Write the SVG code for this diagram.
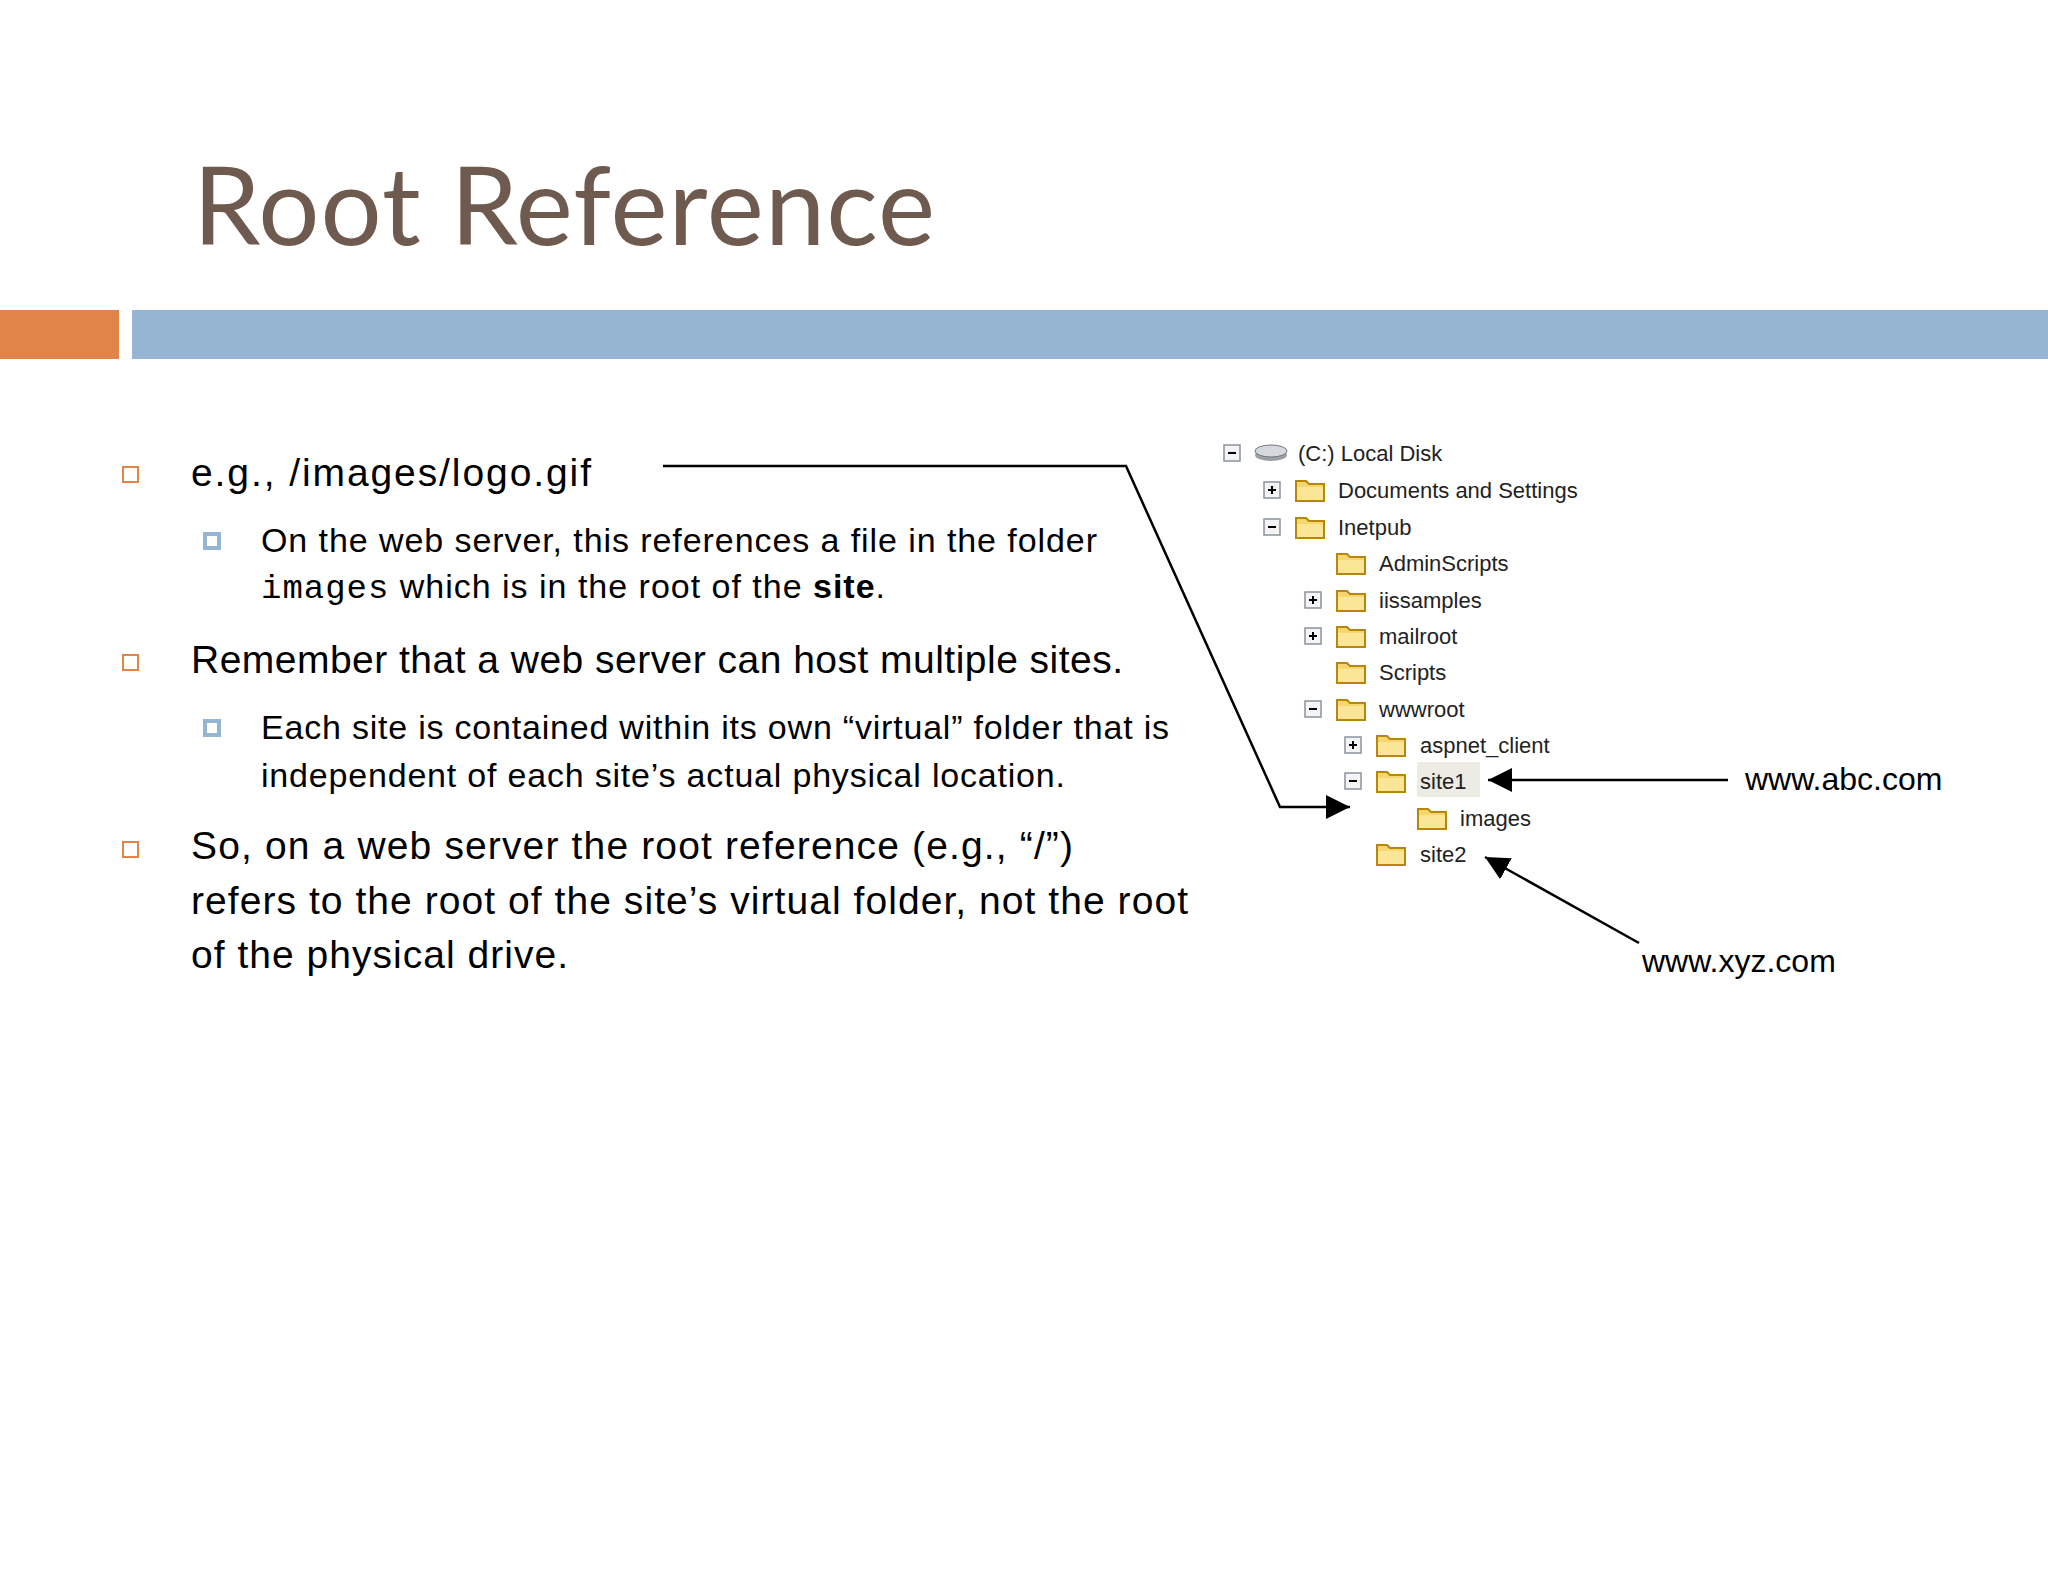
<svg xmlns="http://www.w3.org/2000/svg" width="2048" height="1582" viewBox="0 0 2048 1582">
<defs>
<style>
.t{font-family:"Liberation Sans",Arial,sans-serif;fill:#000}
.b{font-size:39px}.s{font-size:34px}
.tr{font-family:"Liberation Sans",Arial,sans-serif;font-size:22px;fill:#222}
.ex{fill:#f4f4f4;stroke:#8a93a0;stroke-width:1.5}
.exs{stroke:#000;stroke-width:2}
.fd{fill:#f6d66f;stroke:#b8860b;stroke-width:2}
.cn{fill:none;stroke:#000;stroke-width:2.5}
</style>
<marker id="ah2" viewBox="0 0 10 10" refX="10" refY="5" markerWidth="24" markerHeight="26" markerUnits="userSpaceOnUse" orient="auto">
<path d="M0,0 L10,5 L0,10 z" fill="#000"/>
</marker>
<g id="folder"><path class="fd" d="M1,5 h10 l3,3 h15 v17 h-28 z"/><path d="M2,11 h26 v13 h-26 z" fill="#fbe596"/></g>
<g id="minus"><rect class="ex" x="0" y="0" width="16" height="16"/><path class="exs" d="M4,8 h8"/></g>
<g id="plus"><rect class="ex" x="0" y="0" width="16" height="16"/><path class="exs" d="M4,8 h8 M8,4 v8"/></g>
</defs>
<rect width="2048" height="1582" fill="#fff"/>
<text x="193" y="245" font-family="Lato,'Liberation Sans',sans-serif" font-size="108" fill="#6f5a4f" textLength="742">Root Reference</text>
<rect x="0" y="310" width="119" height="49" fill="#e0844a"/>
<rect x="132" y="310" width="1916" height="49" fill="#96b5d2"/>

<g id="bullets">
<rect x="123" y="467" width="15" height="15" fill="none" stroke="#e0844a" stroke-width="2"/>
<text class="t b" x="191" y="486" textLength="400">e.g., /images/logo.gif</text>
<rect x="205" y="534" width="14" height="14" fill="none" stroke="#96b5d2" stroke-width="4"/>
<text class="t s" x="261" y="552" textLength="836">On the web server, this references a file in the folder</text>
<text class="t s" x="261" y="598" textLength="624"><tspan font-family="'Liberation Mono',monospace">images</tspan> which is in the root of the <tspan font-weight="bold">site</tspan>.</text>
<rect x="123" y="655" width="15" height="15" fill="none" stroke="#e0844a" stroke-width="2"/>
<text class="t b" x="191" y="673" textLength="932">Remember that a web server can host multiple sites.</text>
<rect x="205" y="721" width="14" height="14" fill="none" stroke="#96b5d2" stroke-width="4"/>
<text class="t s" x="261" y="739" textLength="908">Each site is contained within its own “virtual” folder that is</text>
<text class="t s" x="261" y="787" textLength="804">independent of each site’s actual physical location.</text>
<rect x="123" y="842" width="15" height="15" fill="none" stroke="#e0844a" stroke-width="2"/>
<text class="t b" x="191" y="859" textLength="882">So, on a web server the root reference (e.g., “/”)</text>
<text class="t b" x="191" y="914" textLength="997">refers to the root of the site’s virtual folder, not the root</text>
<text class="t b" x="191" y="968" textLength="377">of the physical drive.</text>
</g>

<g id="tree">
<use href="#minus" x="1224" y="445"/>
<g id="disk"><ellipse cx="1271" cy="455" rx="16" ry="6" fill="#9aa0a6"/><ellipse cx="1271" cy="451" rx="16" ry="6" fill="#d5d8dc" stroke="#777" stroke-width="1"/></g>
<text class="tr" x="1298" y="461">(C:) Local Disk</text>
<use href="#plus" x="1264" y="482"/><use href="#folder" x="1295" y="476"/><text class="tr" x="1338" y="498">Documents and Settings</text>
<use href="#minus" x="1264" y="519"/><use href="#folder" x="1295" y="513"/><text class="tr" x="1338" y="535">Inetpub</text>
<use href="#folder" x="1336" y="549"/><text class="tr" x="1379" y="571">AdminScripts</text>
<use href="#plus" x="1305" y="592"/><use href="#folder" x="1336" y="586"/><text class="tr" x="1379" y="608">iissamples</text>
<use href="#plus" x="1305" y="628"/><use href="#folder" x="1336" y="622"/><text class="tr" x="1379" y="644">mailroot</text>
<use href="#folder" x="1336" y="658"/><text class="tr" x="1379" y="680">Scripts</text>
<use href="#minus" x="1305" y="701"/><use href="#folder" x="1336" y="695"/><text class="tr" x="1379" y="717">wwwroot</text>
<use href="#plus" x="1345" y="737"/><use href="#folder" x="1376" y="731"/><text class="tr" x="1420" y="753">aspnet_client</text>
<rect x="1417" y="762" width="63" height="35" fill="#ecece4"/>
<use href="#minus" x="1345" y="773"/><use href="#folder" x="1376" y="767"/><text class="tr" x="1420" y="789">site1</text>
<use href="#folder" x="1417" y="804"/><text class="tr" x="1460" y="826">images</text>
<use href="#folder" x="1376" y="840"/><text class="tr" x="1420" y="862">site2</text>
</g>

<g id="connectors">
<polyline class="cn" points="663,466 1126,466 1280,807 1350,807" marker-end="url(#ah2)"/>
<line class="cn" x1="1728" y1="780" x2="1488" y2="780" marker-end="url(#ah2)"/>
<line class="cn" x1="1639" y1="943" x2="1485" y2="857" marker-end="url(#ah2)"/>
</g>
<text class="t" x="1745" y="790" font-size="32">www.abc.com</text>
<text class="t" x="1642" y="972" font-size="32">www.xyz.com</text>
</svg>
